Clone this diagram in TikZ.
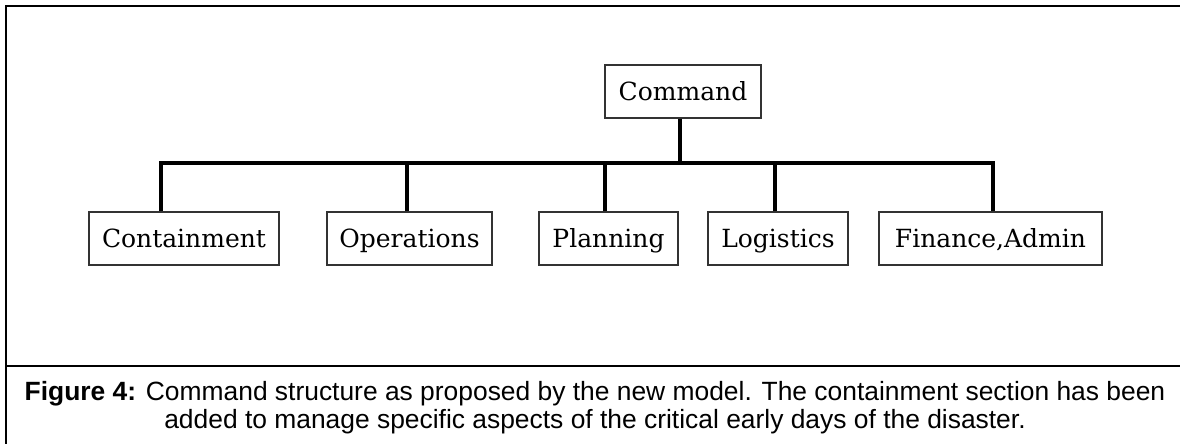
\documentclass[tikz,border=0pt]{standalone}
\usepackage{fontspec}
\setmainfont{Liberation Sans}
\newfontfamily\boxfont{DejaVu Serif}
\begin{document}
\begin{tikzpicture}[x=1pt,y=-1pt,
  unit/.style={draw=black!80,line width=1.4pt,minimum height=53pt,inner sep=0pt,
    text height=18.3pt,text depth=0pt,
    font=\boxfont\fontsize{25}{30}\selectfont},
  conn/.style={line width=3.2pt,black},
  frame/.style={line width=2.8pt,black}]
\useasboundingbox (0,0) rectangle (1180,444);
% frame
\coordinate (ftl) at (6,6);
\coordinate (ftr) at (1180,6);
\coordinate (fbl) at (6,444);
\coordinate (fsl) at (6,366);
\coordinate (fsr) at (1180,366);
\draw[frame,line cap=rect] (fbl) -- (ftl) -- (ftr);
\draw[frame] (fsl) -- (fsr);
% nodes
\node[unit,minimum width=156pt] (cmd) at (683,91.5) {Command};
\node[unit,minimum width=190pt] (cont) at (184,238.5) {Containment};
\node[unit,minimum width=165pt] (ops) at (409.5,238.5) {Operations};
\node[unit,minimum width=139pt] (plan) at (608.5,238.5) {Planning};
\node[unit,minimum width=140pt] (log) at (778,238.5) {Logistics};
\node[unit,minimum width=223pt] (fin) at (990.5,238.5) {Finance,Admin};
% bus
\coordinate (busL) at (161,163);
\coordinate (busR) at (993,163);
\draw[conn,line cap=rect] (busL) -- (busR);
\draw[conn] ([xshift=-3pt]cmd.south) -- ([xshift=-3pt]cmd.south |- busL);
\draw[conn] ([xshift=-23pt]cont.north) -- ([xshift=-23pt]cont.north |- busL);
\draw[conn] ([xshift=-2.5pt]ops.north) -- ([xshift=-2.5pt]ops.north |- busL);
\draw[conn] ([xshift=-3.5pt]plan.north) -- ([xshift=-3.5pt]plan.north |- busL);
\draw[conn] ([xshift=-3pt]log.north) -- ([xshift=-3pt]log.north |- busL);
\draw[conn] ([xshift=2.5pt]fin.north) -- ([xshift=2.5pt]fin.north |- busL);
% caption
\node[align=center,inner sep=0pt,anchor=base,font=\fontsize{26.4}{28}\selectfont] (cap) at (595,428)
  {\textbf{Figure 4:} Command structure as proposed by the new model. The containment section has been\\
   added to manage specific aspects of the critical early days of the disaster.};
\end{tikzpicture}
\end{document}
